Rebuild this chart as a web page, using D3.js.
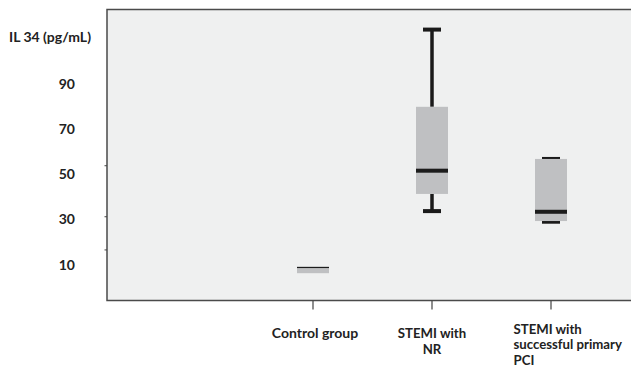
<!DOCTYPE html>
<html>
<head>
<meta charset="utf-8">
<script src="https://cdn.jsdelivr.net/npm/d3@7"></script>
<style>
  html, body { margin: 0; padding: 0; background: #ffffff; }
  svg { display: block; }
  text { font-family: Lato, "Open Sans", sans-serif; font-weight: bold; fill: #222; }
</style>
</head>
<body>
<svg id="chart" width="631" height="368"></svg>
<script>
// ---- data ----
const categories = ["Control group", "STEMI with NR", "STEMI with successful primary PCI"];
const categoryLines = [["Control group"], ["STEMI with", "NR"], ["STEMI with", "successful primary", "PCI"]];
const whiskerMax = [null, 114.1, 56.8];
const q3Values   = [9.0, 79.9, 56.8];
const medians    = [9.0, 51.6, 33.4];
const q1Values   = [6.2, 41.3, 29.3];
const whiskerMin = [null, 33.7, 29.0];
const yTickLabels = [90, 70, 50, 30, 10];
const yStrayTicks = [53.8, 31.2, 16.5];
const yTitle = "IL 34 (pg/mL)";

// ---- layout ----
const svg = d3.select("#chart");
const plot = { left: 107, right: 640, top: 9.5, bottom: 300.5 };

const y = d3.scaleLinear().domain([-5.9, 123]).range([plot.bottom, plot.top]);
const x = d3.scalePoint().domain(categories).range([313, 551]);

const boxW = 32, capW = 18;
const labelFirstBaseline = [338, 337.5, 333.8];
const labelGap = [16, 16, 15.6];

// plot background & frame
svg.append("rect")
  .attr("x", plot.left).attr("y", plot.top)
  .attr("width", plot.right - plot.left).attr("height", plot.bottom - plot.top)
  .attr("fill", "#eff0f0");
svg.append("path")
  .attr("d", `M${plot.right},${plot.top}H${plot.left}V${plot.bottom}H${plot.right}`)
  .attr("fill", "none").attr("stroke", "#4a4a4a").attr("stroke-width", 1.5);

// stray left ticks
svg.selectAll(".stray").data(yStrayTicks).join("line")
  .attr("x1", plot.left - 2.5).attr("x2", plot.left)
  .attr("y1", d => y(d)).attr("y2", d => y(d))
  .attr("stroke", "#444").attr("stroke-width", 1);

// x ticks
svg.selectAll(".xtick").data(categories).join("line")
  .attr("x1", d => x(d)).attr("x2", d => x(d))
  .attr("y1", plot.bottom).attr("y2", plot.bottom + 9)
  .attr("stroke", "#444").attr("stroke-width", 1.2);

// y tick labels
svg.selectAll(".ylab").data(yTickLabels).join("text")
  .attr("x", 75).attr("y", d => y(d)).attr("dy", "0.35em")
  .attr("text-anchor", "end").attr("font-size", 14)
  .text(d => d);

// y title
svg.append("text").attr("x", 9).attr("y", 42)
  .attr("font-size", 14).text(yTitle);

// category labels (one text element per line)
categories.forEach((c, i) => {
  const lines = categoryLines[i];
  lines.forEach((l, k) => {
    const t = svg.append("text").attr("font-size", i === 0 ? 14 : 13.2)
      .attr("y", labelFirstBaseline[i] + k * labelGap[i]).text(l);
    if (i === 2) t.attr("x", x(c) - 37.5);
    else t.attr("x", x(c) + (i === 0 ? 2 : 0)).attr("text-anchor", "middle");
  });
});

// boxes
const groups = categories.map((c, i) => ({
  c, max: whiskerMax[i], q3: q3Values[i], med: medians[i], q1: q1Values[i], min: whiskerMin[i]
}));

const g = svg.append("g");
groups.forEach(d => {
  const cx = x(d.c);
  if (d.max != null) {
    g.append("line").attr("x1", cx).attr("x2", cx).attr("y1", y(d.max)).attr("y2", y(d.q3))
      .attr("stroke", "#1a1a1a").attr("stroke-width", 3.5);
    g.append("line").attr("x1", cx - capW / 2).attr("x2", cx + capW / 2)
      .attr("y1", y(d.max)).attr("y2", y(d.max))
      .attr("stroke", "#1a1a1a").attr("stroke-width", 4);
  }
  if (d.min != null) {
    g.append("line").attr("x1", cx).attr("x2", cx).attr("y1", y(d.q1)).attr("y2", y(d.min))
      .attr("stroke", "#1a1a1a").attr("stroke-width", 3.5);
    g.append("line").attr("x1", cx - capW / 2).attr("x2", cx + capW / 2)
      .attr("y1", y(d.min)).attr("y2", y(d.min))
      .attr("stroke", "#1a1a1a").attr("stroke-width", 4);
  }
  g.append("rect")
    .attr("x", cx - boxW / 2).attr("width", boxW)
    .attr("y", y(d.q3)).attr("height", y(d.q1) - y(d.q3))
    .attr("fill", "#bfc0c2");
  const m1 = Math.max(y(d.med) - 2, y(d.q3));
  const m2 = Math.min(y(d.med) + 2, y(d.q1));
  g.append("rect")
    .attr("x", cx - boxW / 2).attr("width", boxW)
    .attr("y", m1).attr("height", Math.max(0, m2 - m1) * (m1 === y(d.q3) ? 0.6 : 1))
    .attr("fill", "#1c1c1c");
});
</script>
</body>
</html>
